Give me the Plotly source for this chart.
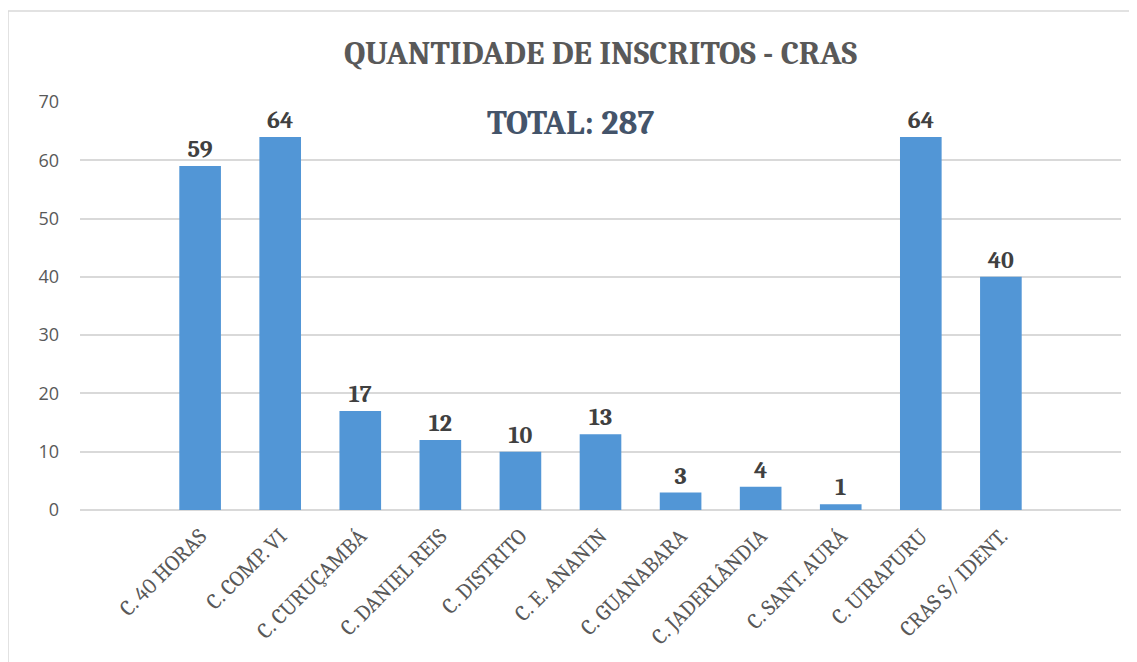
import plotly.graph_objects as go

categories = ["C. 40 HORAS", "C. COMP. VI", "C. CURUÇAMBÁ", "C. DANIEL REIS", "C. DISTRITO",
              "C. E. ANANIN", "C. GUANABARA", "C. JADERLÂNDIA", "C. SANT. AURÁ", "C. UIRAPURU",
              "CRAS S/ IDENT."]
values = [59, 64, 17, 12, 10, 13, 3, 4, 1, 64, 40]
y_ticks = [0, 10, 20, 30, 40, 50, 60, 70]
title_text = "QUANTIDADE DE INSCRITOS - CRAS"
total_text = "TOTAL: 287"

# page has an 8px body margin; work in figure coordinates
OFF = 8
W, H = 1137 - OFF, 662 - OFF
L, R, T, B = 72, 16, 94, 152
pw, ph = W - L - R, H - T - B

def px_x(x):
    return (x - OFF - L) / pw

def px_y(y):
    return (H - B - (y - OFF)) / ph

serif = "Cambria, 'Liberation Serif', 'DejaVu Serif', serif"

fig = go.Figure()
fig.add_trace(go.Bar(
    x=categories, y=values, width=0.52,
    marker=dict(color="#5296D6", line=dict(width=0)),
    text=[str(v) for v in values], textposition="outside", cliponaxis=False,
    textfont=dict(family=serif, size=24, color="#404040", weight="bold"),
))

fig.update_layout(
    width=W, height=H,
    margin=dict(l=L, r=R, t=T, b=B),
    paper_bgcolor="white", plot_bgcolor="white",
    showlegend=False,
    title=dict(text="<b>" + title_text + "</b>", x=0.5, xref="paper", xanchor="center",
               y=1 - 44 / H, yanchor="middle",
               font=dict(family=serif, size=33, color="#595959")),
    xaxis=dict(type="category", range=[-1.5, 11.5], tickangle=-45,
               tickfont=dict(family=serif, size=22, color="#595959"),
               showgrid=False, showline=False, ticks="", ticklabelstandoff=8),
    yaxis=dict(range=[0, 70], tickvals=y_ticks, showgrid=True, gridcolor="#D9D9D9", gridwidth=1.5,
               zeroline=True, zerolinecolor="#D9D9D9", zerolinewidth=1.5,
               tickfont=dict(family="'Open Sans', 'Liberation Sans', sans-serif", size=18, color="#595959"),
               ticks="", ticklabelstandoff=20),
    annotations=[dict(text="<b>" + total_text + "</b>", xref="paper", yref="paper",
                      x=px_x(570), y=px_y(123), xanchor="center", yanchor="middle", showarrow=False,
                      font=dict(family=serif, size=34, color="#44546A"))],
    shapes=[dict(type="rect", xref="paper", yref="paper",
                 x0=px_x(8), x1=px_x(1160), y0=px_y(690), y1=px_y(11),
                 line=dict(color="#D9D9D9", width=1.5), layer="below")],
)

fig.write_html("out.html")
